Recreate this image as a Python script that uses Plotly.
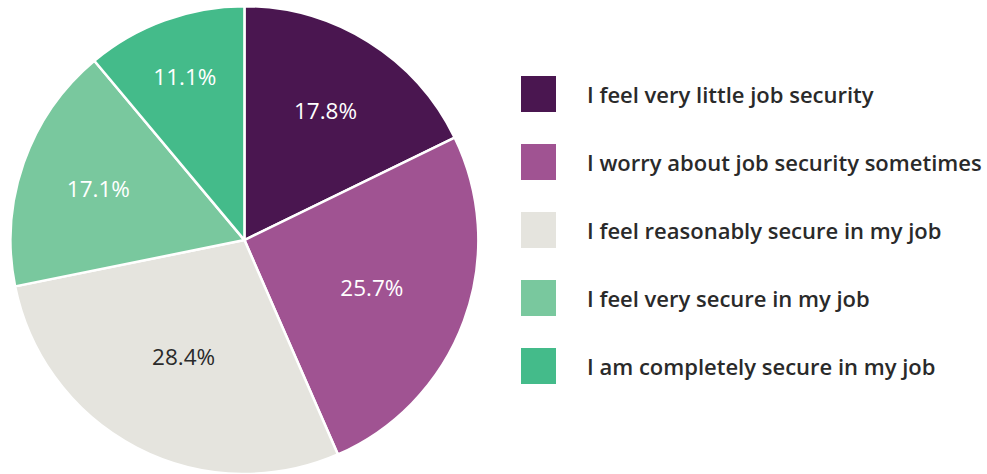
import plotly.graph_objects as go

categories = [
    "I feel very little job security",
    "I worry about job security sometimes",
    "I feel reasonably secure in my job",
    "I feel very secure in my job",
    "I am completely secure in my job",
]
values = [17.8, 25.7, 28.4, 17.1, 11.1]
colors = ["#4a1650", "#a05392", "#e5e4de", "#79c89e", "#44bb8a"]
text_colors = ["#ffffff", "#ffffff", "#2a2a2a", "#ffffff", "#ffffff"]

FONT = "'Open Sans', Roboto, 'DejaVu Sans', sans-serif"

fig = go.Figure()
fig.add_trace(go.Pie(
    labels=categories,
    values=values,
    sort=False,
    direction="clockwise",
    rotation=0,
    marker=dict(colors=colors, line=dict(color="#ffffff", width=2.5)),
    texttemplate="%{value:.1f}%",
    textposition="inside",
    insidetextorientation="horizontal",
    insidetextfont=dict(color=text_colors, size=22.5, family=FONT),
    showlegend=False,
    hoverinfo="label+value",
    domain=dict(x=[0.008, 0.4873], y=[0.0, 0.987]),
))

# custom legend
row_y0 = 94
row_step = 68
for i, (cat, col) in enumerate(zip(categories, colors)):
    yc = row_y0 + i * row_step
    fig.add_shape(type="rect", xref="paper", yref="paper",
                  x0=521 / 987, x1=556 / 987,
                  y0=1 - (yc + 18) / 474, y1=1 - (yc - 18) / 474,
                  fillcolor=col, line=dict(width=0))
    fig.add_annotation(xref="paper", yref="paper", x=585 / 987, y=1 - yc / 474,
                       xanchor="left", yanchor="middle", showarrow=False,
                       text=cat, font=dict(size=22, color="#2a2a2a", family=FONT, weight=600))

fig.update_layout(
    width=987, height=474,
    margin=dict(l=0, r=0, t=0, b=0),
    paper_bgcolor="#ffffff", plot_bgcolor="#ffffff",
    font=dict(family=FONT),
)
fig.write_html("out.html", config={"displayModeBar": False},
               post_script="document.body.style.margin='0';document.body.style.overflow='hidden';")
